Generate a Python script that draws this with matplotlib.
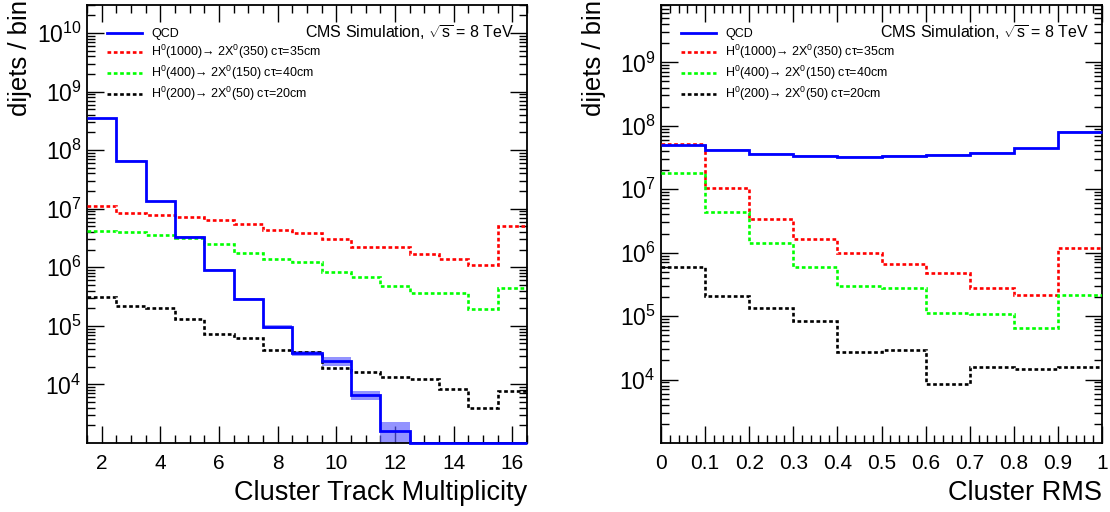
import numpy as np
import matplotlib
matplotlib.use("Agg")
import matplotlib.pyplot as plt
from matplotlib.ticker import LogLocator, NullFormatter, MultipleLocator, LogFormatterMathtext, FuncFormatter

plt.rcParams['font.family'] = ['Liberation Sans', 'DejaVu Sans']
plt.rcParams['mathtext.fontset'] = 'custom'
plt.rcParams['mathtext.rm'] = 'Liberation Sans'
plt.rcParams['mathtext.it'] = 'Liberation Sans:italic'
plt.rcParams['mathtext.sf'] = 'Liberation Sans'

# ---------------- data ----------------
# Cluster Track Multiplicity (bins centred on integers 2..16)
mult_edges = np.arange(1.5, 17.0, 1.0)
mult_qcd = [3.5e8, 6.6e7, 1.34e7, 3.3e6, 9.1e5, 2.9e5, 9.5e4, 3.4e4, 2.5e4, 6.6e3, 1.63e3, 0, 0, 0, 0]
mult_qcd_relerr = [0.01, 0.01, 0.01, 0.02, 0.02, 0.03, 0.07, 0.10, 0.18, 0.18, 0.40, 0, 0, 0, 0]
mult_h1000 = [1.1e7, 8.5e6, 7.7e6, 7.1e6, 6.3e6, 5.5e6, 4.4e6, 3.8e6, 3.0e6, 2.25e6, 2.25e6, 1.66e6, 1.38e6, 1.09e6, 5.1e6]
mult_h400 = [4.2e6, 4.0e6, 3.6e6, 3.1e6, 2.5e6, 1.73e6, 1.38e6, 1.23e6, 8.2e5, 6.7e5, 4.7e5, 3.7e5, 3.7e5, 1.94e5, 4.4e5]
mult_h200 = [3.1e5, 2.15e5, 2.0e5, 1.3e5, 7.2e4, 6.3e4, 3.8e4, 3.6e4, 1.93e4, 1.6e4, 1.34e4, 1.23e4, 8.2e3, 4.0e3, 7.7e3]

# Cluster RMS (10 bins from 0 to 1)
rms_edges = np.linspace(0.0, 1.0, 11)
rms_qcd = [4.9e7, 4.2e7, 3.6e7, 3.3e7, 3.2e7, 3.3e7, 3.5e7, 3.7e7, 4.4e7, 8.0e7]
rms_qcd_relerr = [0.03] * 10
rms_h1000 = [5.1e7, 1.04e7, 3.4e6, 1.63e6, 9.8e5, 6.6e5, 4.7e5, 2.75e5, 2.13e5, 1.2e6]
rms_h400 = [1.78e7, 4.3e6, 1.44e6, 5.9e5, 2.95e5, 2.8e5, 1.1e5, 1.07e5, 6.5e4, 2.15e5]
rms_h200 = [6.0e5, 2.04e5, 1.33e5, 8.3e4, 2.7e4, 2.9e4, 8.5e3, 1.58e4, 1.47e4, 1.56e4]

labels = ["QCD",
          "H$^{0}$(1000)→ 2X$^{0}$(350) cτ=35cm",
          "H$^{0}$(400)→ 2X$^{0}$(150) cτ=40cm",
          "H$^{0}$(200)→ 2X$^{0}$(50) cτ=20cm"]
sig_colors = ["#ff0000", "#00ff00", "#000000"]
qcd_color = "#0000ff"

W, H = 1110, 512
fig = plt.figure(figsize=(W / 100, H / 100), dpi=100)

def frac(x0, y0, x1, y1):
    return [x0 / W, 1 - y1 / H, (x1 - x0) / W, (y1 - y0) / H]

axL = fig.add_axes(frac(87, 5, 527, 443))
axR = fig.add_axes(frac(661, 5, 1102, 443))

dot = (0, (1.4, 1.0))

def draw(ax, edges, qcd, relerr, sigs, ylim, xlabel, yticks):
    ax.set_yscale('log')
    ax.set_xlim(edges[0], edges[-1])
    ax.set_ylim(*ylim)
    qcd = np.asarray(qcd, float)
    err = qcd * np.asarray(relerr, float)
    lo = np.clip(qcd - err, ax.get_ylim()[0], None)
    hi = np.clip(qcd + err, ax.get_ylim()[0], None)
    ax.stairs(hi, edges, baseline=lo, fill=True, color=(0.35, 0.35, 1.0), alpha=0.65, lw=0, zorder=2)
    qshow = np.clip(qcd, ax.get_ylim()[0], None)
    ax.stairs(qshow, edges, color=qcd_color, lw=2.0, zorder=4, clip_on=False, baseline=None)
    handles = [plt.Line2D([], [], color=qcd_color, lw=2.0)]
    for vals, c in zip(sigs, sig_colors):
        ax.stairs(vals, edges, color=c, lw=1.9, linestyle=dot, zorder=3, baseline=None)
        handles.append(plt.Line2D([], [], color=c, lw=1.9, linestyle=dot))
    ax.legend(handles, labels, loc='upper left', bbox_to_anchor=(0.035, 0.958),
              frameon=False, fontsize=9, handlelength=2.8, handletextpad=0.7,
              labelspacing=0.22, borderaxespad=0)
    ax.text(1 - 13 / 440, 1 - 28 / 438, r"CMS Simulation, $\sqrt{\mathrm{s}}$ = 8 TeV",
            transform=ax.transAxes, ha='right', va='center', fontsize=11.5)
    ax.set_xlabel(xlabel, fontsize=19.5, loc='right')
    ax.xaxis.set_label_coords(1.0, -0.085)
    ax.set_ylabel("dijets / bin", fontsize=18.5, loc='top')
    ax.yaxis.set_label_coords(-0.125, 1.012)
    ax.yaxis.set_major_locator(LogLocator(base=10, numticks=20))
    ax.yaxis.set_minor_locator(LogLocator(base=10, subs=np.arange(2, 10), numticks=20))
    ax.yaxis.set_minor_formatter(NullFormatter())
    ax.set_yticks(yticks)
    ax.yaxis.set_major_formatter(LogFormatterMathtext())
    ax.tick_params(which='both', direction='in', top=True, right=True, width=1.0)
    ax.tick_params(axis='x', labelsize=15, pad=8)
    ax.tick_params(axis='y', labelsize=16.5, pad=4)
    ax.tick_params(which='major', length=12)
    ax.tick_params(which='minor', length=6)
    for s in ax.spines.values():
        s.set_linewidth(1.3)

draw(axL, mult_edges, mult_qcd, mult_qcd_relerr, [mult_h1000, mult_h400, mult_h200],
     (1.0e3, 3.0e10), "Cluster Track Multiplicity", [1e4, 1e5, 1e6, 1e7, 1e8, 1e9, 1e10])
axL.xaxis.set_major_locator(MultipleLocator(2))
axL.xaxis.set_minor_locator(MultipleLocator(0.5))

draw(axR, rms_edges, rms_qcd, rms_qcd_relerr, [rms_h1000, rms_h400, rms_h200],
     (1.0e3, 8.0e9), "Cluster RMS", [1e4, 1e5, 1e6, 1e7, 1e8, 1e9])
axR.xaxis.set_major_locator(MultipleLocator(0.1))
axR.xaxis.set_minor_locator(MultipleLocator(0.02))
axR.xaxis.set_major_formatter(FuncFormatter(
    lambda v, p: f"{int(round(v))}" if abs(v - round(v)) < 1e-9 else f"{v:.1f}"))

fig.savefig("out.png", dpi=100)
